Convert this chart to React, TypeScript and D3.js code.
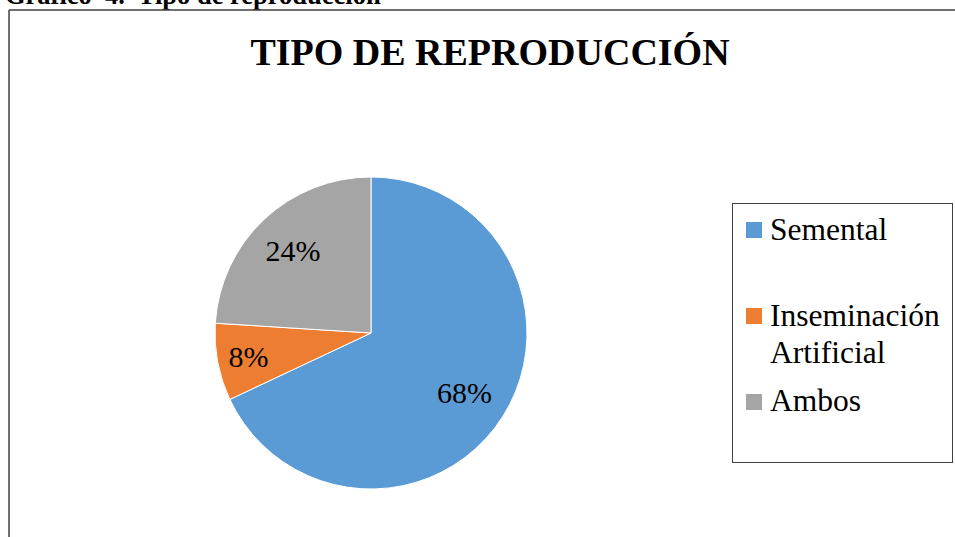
import React from "react";
import * as d3 from "d3";

const categories = ["Semental", "Inseminación Artificial", "Ambos"];
const legendLines = [["Semental"], ["Inseminación", "Artificial"], ["Ambos"]];
const values = [68, 8, 24];
const labels = ["68%", "8%", "24%"];
const colors = ["#5B9BD5", "#ED7D31", "#A5A5A5"];
const labelRadiusFactor = [0.71, 0.8, 0.73];

const W = 955;
const H = 537;
const FONT = "'Liberation Serif', 'Times New Roman', serif";

export default function App() {
  const cx = 371;
  const cy = 333;
  const r = 156;
  const pie = d3.pie<number>().sort(null).value((d) => d);
  const arcs = pie(values);
  const arcGen = d3.arc<d3.PieArcDatum<number>>().innerRadius(0).outerRadius(r);

  const legendX = 732.5;
  const legendY = 203.5;
  const markerY = [222, 308, 394];
  const baselineY = [240, 326, 411];
  const lineH = 37;

  return (
    <svg
      width={W}
      height={H}
      style={{ position: "absolute", left: 0, top: 0, background: "#fff" }}
      fontFamily={FONT}
    >
      <rect x={0} y={0} width={W} height={H} fill="#fff" />
      <text x={5} y={4} fontSize={26.5} fontWeight="bold" fill="#000" style={{ whiteSpace: "pre" }}>
        {"Gráfico  4.  Tipo de reproducción"}
      </text>
      <line x1={9} y1={10} x2={W} y2={10} stroke="#404040" strokeWidth={1.5} />
      <line x1={9} y1={10} x2={9} y2={H} stroke="#404040" strokeWidth={1.5} />
      <text x={490} y={65} fontSize={38} fontWeight="bold" textAnchor="middle" fill="#000">
        TIPO DE REPRODUCCIÓN
      </text>
      <g transform={`translate(${cx},${cy})`}>
        {arcs.map((a, i) => (
          <path key={categories[i]} d={arcGen(a) || ""} fill={colors[i]} stroke="#fff" strokeWidth={1} />
        ))}
        {arcs.map((a, i) => {
          const mid = (a.startAngle + a.endAngle) / 2;
          const lr = r * labelRadiusFactor[i];
          const x = Math.sin(mid) * lr;
          const y = -Math.cos(mid) * lr;
          return (
            <text key={labels[i]} x={x} y={y} dy="0.35em" fontSize={30} textAnchor="middle" fill="#000">
              {labels[i]}
            </text>
          );
        })}
      </g>
      <rect x={legendX} y={legendY} width={220} height={259} fill="#fff" stroke="#404040" strokeWidth={1} />
      {categories.map((c, i) => (
        <g key={c}>
          <rect x={746} y={markerY[i]} width={16} height={16} fill={colors[i]} />
          <text x={770} y={baselineY[i]} fontSize={31.5} fill="#000">
            {legendLines[i].map((ln, j) => (
              <tspan key={ln} x={770} y={baselineY[i] + j * lineH}>
                {ln}
              </tspan>
            ))}
          </text>
        </g>
      ))}
    </svg>
  );
}
